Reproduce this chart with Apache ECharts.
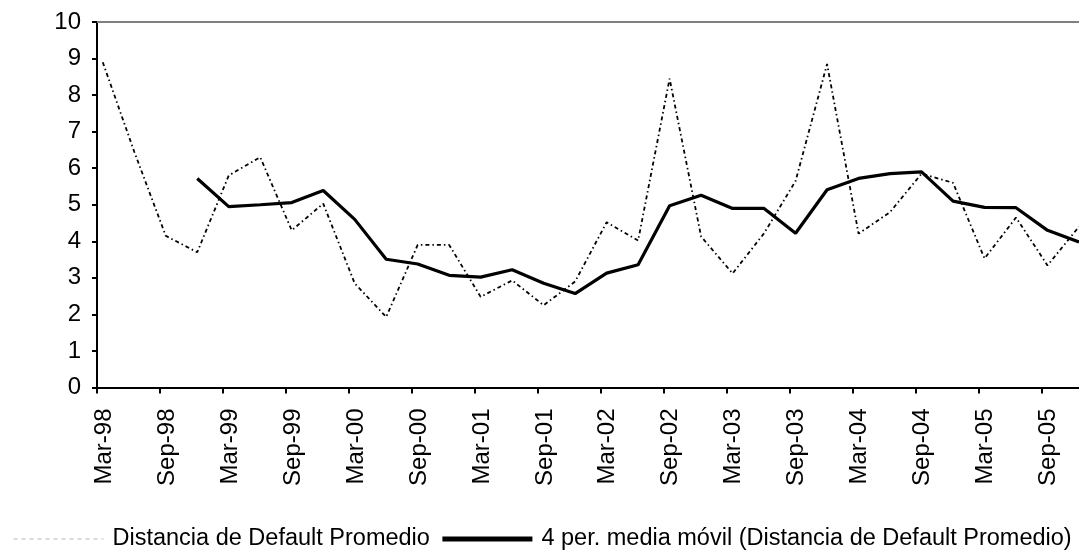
<!DOCTYPE html>
<html>
<head>
<meta charset="utf-8">
<script src="https://cdn.jsdelivr.net/npm/echarts@6/dist/echarts.min.js"></script>
<style>
  html, body { margin: 0; padding: 0; background: #fff; }
  #chart { width: 1079px; height: 550px; }
</style>
</head>
<body>
<div id="chart"></div>
<script>
// Quarterly observations
const quarters = ['Mar-98','Jun-98','Sep-98','Dec-98','Mar-99','Jun-99','Sep-99','Dec-99',
                  'Mar-00','Jun-00','Sep-00','Dec-00','Mar-01','Jun-01','Sep-01','Dec-01',
                  'Mar-02','Jun-02','Sep-02','Dec-02','Mar-03','Jun-03','Sep-03','Dec-03',
                  'Mar-04','Jun-04','Sep-04','Dec-04','Mar-05','Jun-05','Sep-05','Dec-05'];
const distancia = [8.9, 6.45, 4.15, 3.7, 5.8, 6.3, 4.3, 5.03,
                   2.85, 1.93, 3.9, 3.9, 2.48, 2.93, 2.25, 2.9,
                   4.52, 4.02, 8.45, 4.13, 3.12, 4.22, 5.65, 8.85,
                   4.21, 4.8, 5.85, 5.6, 3.53, 4.65, 3.34, 4.4];
const mediaMovil = [null, null, null, 5.72, 4.95, 5.0, 5.06, 5.39,
                    4.6, 3.51, 3.38, 3.07, 3.02, 3.22, 2.85, 2.57,
                    3.13, 3.36, 4.97, 5.26, 4.9, 4.9, 4.22, 5.41,
                    5.72, 5.85, 5.9, 5.1, 4.93, 4.92, 4.3, 3.98];
const tickLabels = ['Mar-98','Sep-98','Mar-99','Sep-99','Mar-00','Sep-00','Mar-01','Sep-01',
                    'Mar-02','Sep-02','Mar-03','Sep-03','Mar-04','Sep-04','Mar-05','Sep-05'];
const yTicks = [0,1,2,3,4,5,6,7,8,9,10];
const seriesNames = ['Distancia de Default Promedio', '4 per. media móvil (Distancia de Default Promedio)'];

// time in months since Mar-98; observations fall mid-month
const MONTHS_PER_QUARTER = 3;
const OBS_OFFSET = 0.55;
const xOf = i => i * MONTHS_PER_QUARTER + OBS_OFFSET;
const xMax = xOf(quarters.length - 1);

const FONT = "'Liberation Sans', Arial, sans-serif";
const chart = echarts.init(document.getElementById('chart'), null, { renderer: 'canvas' });

chart.setOption({
  animation: false,
  backgroundColor: '#ffffff',
  textStyle: { fontFamily: FONT, color: '#000' },
  grid: { left: 97, right: 0, top: 22, bottom: 162.5 },
  xAxis: [{
    type: 'value', min: 0, max: xMax, interval: 6,
    axisLine: { show: true, lineStyle: { color: '#000', width: 2 } },
    axisTick: { show: true, length: 6, lineStyle: { color: '#000', width: 2 } },
    splitLine: { show: false },
    axisLabel: {
      rotate: 90, margin: 21, fontSize: 24, fontFamily: FONT, color: '#000',
      verticalAlign: 'top', lineHeight: 14,
      showMaxLabel: false,
      formatter: v => {
        const k = Math.round(v / 6);
        return Math.abs(v - 6 * k) < 1e-6 ? (tickLabels[k] || '') : '';
      }
    }
  }, {
    type: 'value', min: 0, max: xMax, position: 'top',
    axisLine: { show: true, lineStyle: { color: '#808080', width: 2 } },
    axisTick: { show: false }, axisLabel: { show: false }, splitLine: { show: false }
  }],
  yAxis: {
    type: 'value', min: yTicks[0], max: yTicks[yTicks.length - 1], interval: 1,
    axisLine: { show: true, lineStyle: { color: '#000', width: 2 } },
    axisTick: { show: true, length: 5, lineStyle: { color: '#000', width: 2 } },
    splitLine: { show: false },
    axisLabel: { margin: 16, fontSize: 24, fontFamily: FONT, color: '#000', padding: [6, 0, 0, 0] }
  },
  legend: {
    left: 13, top: 527, width: 1100, padding: 0,
    itemWidth: 90, itemHeight: 14, itemGap: 10,
    textStyle: { fontSize: 23.5, fontFamily: FONT, color: '#000', padding: [0, 0, 0, 4] },
    data: [
      { name: seriesNames[0], itemStyle: { opacity: 0 }, lineStyle: { color: '#b8b8b8', width: 1, type: [4, 4] } },
      { name: seriesNames[1], itemStyle: { opacity: 0 }, lineStyle: { color: '#000', width: 5 } }
    ]
  },
  series: [{
    name: seriesNames[0], type: 'line', symbol: 'none', showSymbol: false,
    data: quarters.map((q, i) => [xOf(i), distancia[i]]),
    lineStyle: { color: '#000', width: 1.8, type: [4, 3, 1.5, 3] },
    itemStyle: { color: '#000' }
  }, {
    name: seriesNames[1], type: 'line', symbol: 'none', showSymbol: false,
    data: quarters.map((q, i) => [xOf(i), mediaMovil[i]]),
    lineStyle: { color: '#000', width: 3.2, type: 'solid' },
    itemStyle: { color: '#000' }
  }]
});
</script>
</body>
</html>
